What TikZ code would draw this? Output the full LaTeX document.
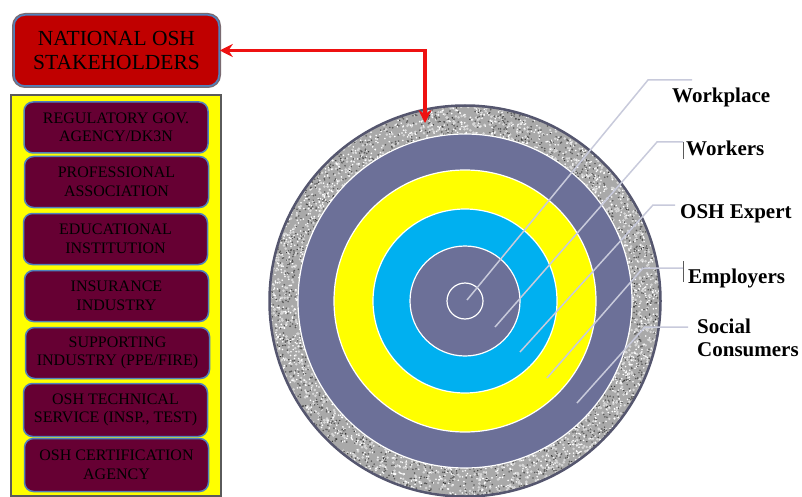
\documentclass[tikz,border=0pt]{standalone}
\usepackage{fontspec}
\setmainfont{Liberation Serif}
\usetikzlibrary{arrows.meta}
\definecolor{osred}{HTML}{C00000}
\definecolor{maroonbox}{HTML}{660033}
\definecolor{bordblue}{HTML}{4F81BD}
\definecolor{panelgray}{HTML}{5A5A5A}
\definecolor{shadowgray}{HTML}{7A6A70}
\definecolor{slate}{HTML}{6C7098}
\definecolor{ringblue}{HTML}{00B0F0}
\definecolor{ringyellow}{HTML}{FFFF00}
\definecolor{granite}{HTML}{A9A9A9}
\definecolor{granitelight}{HTML}{D6D6D6}
\definecolor{granitedark}{HTML}{5C5C5C}
\definecolor{leadercol}{HTML}{C8CADB}
\definecolor{arrowred}{HTML}{EE1111}
\definecolor{rimcol}{HTML}{55566E}
\begin{document}
\begin{tikzpicture}[x=1pt,y=-1pt,
  headbox/.style={rounded corners=11pt, fill=osred, draw=bordblue, line width=1.5pt,
    preaction={draw=shadowgray, line width=4pt},
    minimum width=205pt, minimum height=71pt, align=center, inner sep=0pt,
    font=\fontsize{21.5}{24}\selectfont},
  panelbox/.style={fill=ringyellow, draw=panelgray, line width=2pt,
    minimum width=210pt, minimum height=400pt, inner sep=0pt},
  stakebox/.style={rounded corners=9pt, fill=maroonbox, draw=bordblue, line width=1.5pt,
    minimum width=184pt, minimum height=51pt, align=center, inner sep=0pt,
    font=\fontsize{16}{18.5}\selectfont},
  lab/.style={font=\fontsize{21}{23}\selectfont\bfseries, inner sep=0pt, align=left},
  leader/.style={draw=leadercol, line width=1.5pt},
  tickmark/.style={draw=panelgray, line width=1pt},
  ringline/.style={draw=white, line width=1.2pt},
  redarrow/.style={draw=arrowred, line width=3.8pt,
    {Stealth[length=13pt,width=13pt]}-{Stealth[length=13pt,width=13pt]}}
]
\useasboundingbox (0,0) rectangle (802,497);

% ---------- left column ----------
\node[headbox] (head) at (116.5,50.5) {NATIONAL OSH\\STAKEHOLDERS};
\node[panelbox] (panel) at (116,295.5) {};
\node[stakebox] (s1) at (116,127.5) {REGULATORY GOV.\\AGENCY/DK3N};
\node[stakebox] (s2) at (116.5,182) {PROFESSIONAL\\ASSOCIATION};
\node[stakebox] (s3) at (115.5,239) {EDUCATIONAL\\INSTITUTION};
\node[stakebox] (s4) at (116.5,296) {INSURANCE\\INDUSTRY};
\node[stakebox] (s5) at (117.5,353) {SUPPORTING\\INDUSTRY (PPE/FIRE)};
\node[stakebox, minimum height=53pt] (s6) at (115.5,410) {OSH TECHNICAL\\SERVICE (INSP., TEST)};
\node[stakebox, minimum height=53pt] (s7) at (116.5,465) {OSH CERTIFICATION\\AGENCY};

% ---------- target rings ----------
\coordinate (O) at (465,301);
\fill[granite] (O) circle (196);
\begin{scope}
  \clip (O) circle (196);
  \pgfmathsetseed{4242}
  \foreach \i in {1,...,1100}{
    \pgfmathsetmacro\a{rnd*360}\pgfmathsetmacro\r{165+rnd*32}
    \fill[granitelight] (O) ++(\a:\r) circle (1.4);
  }
  \foreach \i in {1,...,1500}{
    \pgfmathsetmacro\a{rnd*360}\pgfmathsetmacro\r{165+rnd*32}
    \fill[white] (O) ++(\a:\r) circle (0.9);
  }
  \foreach \i in {1,...,1100}{
    \pgfmathsetmacro\a{rnd*360}\pgfmathsetmacro\r{165+rnd*32}
    \fill[granitedark] (O) ++(\a:\r) circle (0.9);
  }
  \foreach \i in {1,...,300}{
    \pgfmathsetmacro\a{rnd*360}\pgfmathsetmacro\r{165+rnd*32}
    \fill[black!80] (O) ++(\a:\r) circle (0.7);
  }
\end{scope}
\draw[rimcol, line width=2.5pt] (O) circle (195.5);
\fill[slate] (O) circle (167);
\fill[ringyellow] (O) circle (131);
\fill[ringblue] (O) circle (92);
\fill[slate] (O) circle (55);
\foreach \rr in {167,131,92,55,18} \draw[ringline] (O) circle (\rr);

% ---------- labels ----------
\node[lab, anchor=base west] (lwp) at (672,103) {Workplace};
\node[lab, anchor=base west] (lwk) at (686,156) {Workers};
\node[lab, anchor=base west] (lex) at (680,218) {OSH Expert};
\node[lab, anchor=base west] (lem) at (688,283) {Employers};
\node[lab, anchor=west] (lsc) at (697,338) {Social\\Consumers};

% ---------- leader lines ----------
\coordinate (a1) at (467,300); \coordinate (b1) at (648,80);  \coordinate (c1) at (692,80);
\coordinate (a2) at (495,327); \coordinate (b2) at (657,142); \coordinate (c2) at (683,142);
\coordinate (a3) at (520,352); \coordinate (b3) at (653,205); \coordinate (c3) at (675,205);
\coordinate (a4) at (547,378); \coordinate (b4) at (643,268); \coordinate (c4) at (683,268);
\coordinate (a5) at (577,403); \coordinate (b5) at (645,327); \coordinate (c5) at (688,327);
\draw[leader] (a1) -- (b1) -- (c1);
\draw[leader] (a2) -- (b2) -- (c2);
\draw[leader] (a3) -- (b3) -- (c3);
\draw[leader] (a4) -- (b4) -- (c4);
\draw[leader] (a5) -- (b5) -- (c5);
\draw[tickmark] (c2) -- ++(0,17);
\draw[tickmark] (683,261) -- (683,282);

% ---------- red arrow ----------
\coordinate (target) at (425,123);
\coordinate (corner) at (425,50.5);
\draw[redarrow] (target) -- (corner) -- (head.east);
\end{tikzpicture}
\end{document}
